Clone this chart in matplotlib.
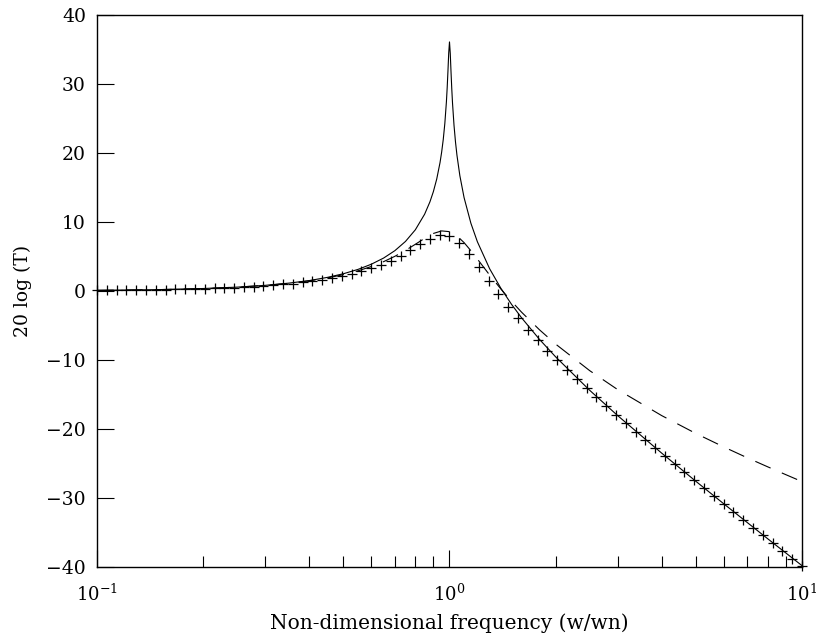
import matplotlib
matplotlib.use("Agg")
import matplotlib.pyplot as plt
from matplotlib.ticker import LogLocator, FixedLocator, NullFormatter, NullLocator

plt.rcParams["font.family"] = ["DejaVu Serif"]
plt.rcParams["mathtext.fontset"] = "dejavuserif"

# Lightly damped transmissibility (solid)
r_light = [0.1, 0.15, 0.2, 0.25, 0.3, 0.35, 0.4, 0.45, 0.5, 0.55, 0.6, 0.65,
           0.7, 0.75, 0.8, 0.85, 0.88, 0.9, 0.92, 0.94, 0.95, 0.96, 0.97, 0.98,
           0.985, 0.99, 0.995, 1.0, 1.005, 1.01, 1.015, 1.02, 1.03, 1.04, 1.05,
           1.07, 1.1, 1.15, 1.2, 1.3, 1.4, 1.5, 1.6, 1.8, 2.0, 2.5, 3.0, 4.0,
           5.0, 6.0, 7.0, 8.0, 9.0, 10.0]
db_light = [0.09, 0.20, 0.36, 0.56, 0.82, 1.14, 1.51, 1.97, 2.50, 3.13, 3.88,
            4.77, 5.85, 7.18, 8.87, 11.13, 12.92, 14.40, 16.23, 18.61, 20.12,
            21.95, 24.28, 27.41, 29.45, 31.89, 34.52, 36.10, 34.45, 31.77,
            29.29, 27.22, 24.00, 21.59, 19.67, 16.72, 13.53, 9.82, 7.13, 3.22,
            0.36, -1.94, -3.86, -7.01, -9.54, -14.40, -18.06, -23.50, -27.58,
            -30.84, -33.57, -35.92, -37.97, -39.80]

# Heavily damped transmissibility (dashed)
r_heavy = [0.1, 0.15, 0.2, 0.25, 0.3, 0.35, 0.4, 0.45, 0.5, 0.55, 0.6, 0.65,
           0.7, 0.75, 0.8, 0.85, 0.9, 0.95, 1.0, 1.05, 1.1, 1.15, 1.2, 1.3,
           1.4, 1.5, 1.6, 1.8, 2.0, 2.5, 3.0, 4.0, 5.0, 6.0, 7.0, 8.0, 9.0, 10.0]
db_heavy = [0.09, 0.20, 0.35, 0.56, 0.81, 1.11, 1.47, 1.89, 2.37, 2.92, 3.55,
            4.25, 5.03, 5.88, 6.77, 7.63, 8.34, 8.71, 8.60, 7.99, 7.01, 5.84,
            4.63, 2.31, 0.27, -1.50, -3.05, -5.62, -7.69, -11.55, -14.29,
            -18.06, -20.65, -22.60, -24.18, -25.49, -26.62, -27.62]

# Sampled response (plus markers)
r_pts = [0.1, 0.10661, 0.11365, 0.12115, 0.12915, 0.13768, 0.14678, 0.15647,
         0.16681, 0.17783, 0.18957, 0.2021, 0.21544, 0.22967, 0.24484, 0.26102,
         0.27826, 0.29664, 0.31623, 0.33711, 0.35938, 0.38312, 0.40842, 0.4354,
         0.46416, 0.49482, 0.5275, 0.56234, 0.59948, 0.63908, 0.68129, 0.72629,
         0.77426, 0.8254, 0.87992, 0.93804, 1.0, 1.06605, 1.13646, 1.21153,
         1.29155, 1.37685, 1.4678, 1.56475, 1.6681, 1.77828, 1.89574, 2.02102,
         2.15443, 2.29676, 2.44844, 2.61016, 2.78256, 2.96634, 3.16228, 3.37115,
         3.59381, 3.83119, 4.08424, 4.354, 4.64159, 4.94817, 5.275, 5.62341,
         5.99484, 6.39078, 6.81292, 7.2629, 7.74264, 8.25404, 8.79923, 9.38042,
         10.0]
db_pts = [0.08, 0.09, 0.10, 0.12, 0.13, 0.15, 0.17, 0.20, 0.22, 0.26, 0.29,
          0.33, 0.38, 0.43, 0.49, 0.56, 0.64, 0.73, 0.83, 0.95, 1.08, 1.24,
          1.42, 1.63, 1.87, 2.15, 2.48, 2.86, 3.30, 3.82, 4.42, 5.12, 5.91,
          6.77, 7.57, 8.09, 7.96, 6.98, 5.35, 3.43, 1.47, -0.44, -2.25, -3.96,
          -5.59, -7.14, -8.63, -10.07, -11.46, -12.81, -14.13, -15.43, -16.69,
          -17.94, -19.17, -20.38, -21.59, -22.77, -23.95, -25.13, -26.29,
          -27.45, -28.60, -29.74, -30.89, -32.02, -33.16, -34.29, -35.42,
          -36.55, -37.67, -38.80, -39.92]

y_ticks = [-40, -30, -20, -10, 0, 10, 20, 30, 40]
x_ticks = [0.1, 1, 10]
x_ticklabels = [r"$10^{-1}$", r"$10^{0}$", r"$10^{1}$"]

fig = plt.figure(figsize=(8.16, 6.39), dpi=100)
ax = fig.add_axes([0.1189, 0.1127, 0.8639, 0.8638])

ax.plot(r_light, db_light, color="black", lw=0.8)
ax.plot(r_heavy, db_heavy, color="black", lw=0.8, dashes=(15, 11))
ax.plot(r_pts, db_pts, linestyle="none", marker="+", color="black",
        markersize=7.5, markeredgewidth=0.9, clip_on=False)

ax.set_xscale("log")
ax.set_xlim(0.1, 10)
ax.set_ylim(-40, 40)

ax.xaxis.set_major_locator(FixedLocator(x_ticks))
ax.xaxis.set_minor_locator(LogLocator(base=10, subs=[2, 3, 4, 5, 6, 7, 8, 9]))
ax.xaxis.set_minor_formatter(NullFormatter())
ax.set_xticklabels(x_ticklabels)
ax.set_yticks(y_ticks)
ax.yaxis.set_minor_locator(NullLocator())

ax.tick_params(axis="both", which="major", direction="in", length=12.5,
               width=0.8, labelsize=13.5, top=False, right=False)
ax.tick_params(axis="x", which="minor", direction="in", length=8,
               width=0.8, top=False)
ax.tick_params(axis="x", which="major", pad=12, labelsize=13)
ax.tick_params(axis="y", which="major", pad=8)

for s in ax.spines.values():
    s.set_linewidth(1.0)

ax.set_xlabel("Non-dimensional frequency (w/wn)", fontsize=14.5, labelpad=6)
ax.set_ylabel("20 log (T)", fontsize=13.5, labelpad=10)

fig.savefig("out.png", dpi=100)
